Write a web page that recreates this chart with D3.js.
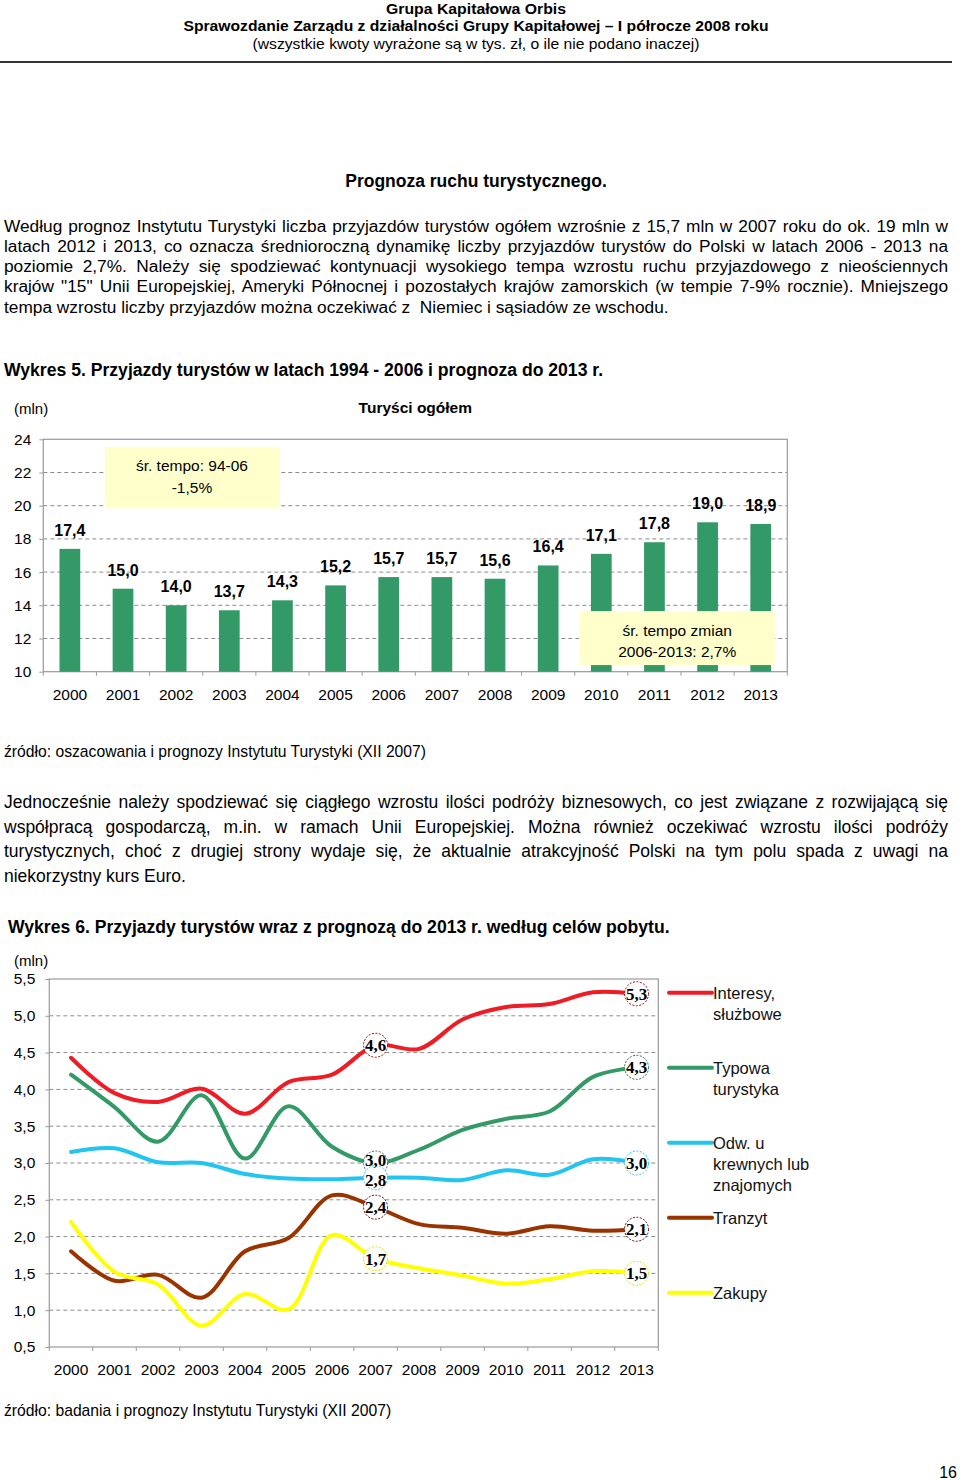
<!DOCTYPE html>
<html lang="pl">
<head>
<meta charset="UTF-8">
<title>Prognoza ruchu turystycznego</title>
<script src="https://cdn.jsdelivr.net/npm/d3@7"></script>
<style>
  body { margin: 0; background: #fff; }
  svg { display: block; font-family: "Liberation Sans", Arial, sans-serif; }
</style>
</head>
<body>
<svg id="page" width="960" height="1480"></svg>
<script>
// ---- data: Wykres 5 (turyści ogółem, mln)
const years = ["2000","2001","2002","2003","2004","2005","2006","2007","2008","2009","2010","2011","2012","2013"];
const total = [17.4, 15.0, 14.0, 13.7, 14.3, 15.2, 15.7, 15.7, 15.6, 16.4, 17.1, 17.8, 19.0, 18.9];
const ticks5 = [10, 12, 14, 16, 18, 20, 22, 24];

// ---- data: Wykres 6 (cele pobytu, mln)
const interesy = [4.43, 3.95, 3.83, 4.01, 3.67, 4.1, 4.2, 4.6, 4.55, 4.95, 5.12, 5.16, 5.32, 5.3];
const typowa   = [4.2, 3.76, 3.29, 3.92, 3.06, 3.77, 3.22, 3.0, 3.18, 3.45, 3.6, 3.7, 4.17, 4.3];
const odwiedz  = [3.15, 3.2, 3.01, 3.0, 2.85, 2.79, 2.78, 2.8, 2.8, 2.77, 2.9, 2.84, 3.05, 3.0];
const tranzyt  = [1.8, 1.4, 1.48, 1.17, 1.8, 1.98, 2.56, 2.4, 2.17, 2.12, 2.04, 2.14, 2.08, 2.1];
const zakupy   = [2.2, 1.52, 1.35, 0.79, 1.22, 1.01, 2.02, 1.7, 1.57, 1.47, 1.36, 1.42, 1.53, 1.5];
const seriesNames = [["Interesy,", "służbowe"], ["Typowa", "turystyka"], ["Odw. u", "krewnych lub", "znajomych"], ["Tranzyt"], ["Zakupy"]];
const seriesColors = ["#ee1c24", "#339966", "#22c4f0", "#993300", "#ffff00"];
const ringColors = ["#990000", "#1f6b45", "#22c4f0", "#660000", "#e0e000"];
const labelIdx = [7, 13];
const ticks6 = [0.5, 1.0, 1.5, 2.0, 2.5, 3.0, 3.5, 4.0, 4.5, 5.0, 5.5];

// ---- page text
const header = ["Grupa Kapitałowa Orbis",
  "Sprawozdanie Zarządu z działalności Grupy Kapitałowej – I półrocze 2008 roku",
  "(wszystkie kwoty wyrażone są w tys. zł, o ile nie podano inaczej)"];
const para1 = [
  "Według prognoz Instytutu Turystyki liczba przyjazdów turystów ogółem wzrośnie z 15,7 mln w 2007 roku do ok. 19 mln w",
  "latach 2012 i 2013, co oznacza średnioroczną dynamikę liczby przyjazdów turystów do Polski w latach 2006 - 2013 na",
  "poziomie 2,7%. Należy się spodziewać kontynuacji wysokiego tempa wzrostu ruchu przyjazdowego z nieościennych",
  "krajów \"15\" Unii Europejskiej, Ameryki Północnej i pozostałych krajów zamorskich (w tempie 7-9% rocznie). Mniejszego",
  "tempa wzrostu liczby przyjazdów można oczekiwać z  Niemiec i sąsiadów ze wschodu."];
const para2 = [
  "Jednocześnie należy spodziewać się ciągłego wzrostu ilości podróży biznesowych, co jest związane z rozwijającą się",
  "współpracą gospodarczą, m.in. w ramach Unii Europejskiej. Można również oczekiwać wzrostu ilości podróży",
  "turystycznych, choć z drugiej strony wydaje się, że aktualnie atrakcyjność Polski na tym polu spada z uwagi na",
  "niekorzystny kurs Euro."];

const page = d3.select("#page");
const comma = d => d3.format(".1f")(d).replace(".", ",");

// header
[[14, "bold", 180], [31, "bold", 585], [48.5, "normal", 447]].forEach(([y, w, len], i) => {
  page.append("text").attr("x", 476).attr("y", y).attr("text-anchor", "middle")
    .attr("font-size", 14.5).attr("font-weight", w)
    .attr("textLength", len).attr("lengthAdjust", "spacingAndGlyphs")
    .text(header[i]);
});
page.append("line").attr("x1", 0).attr("x2", 952).attr("y1", 62).attr("y2", 62)
  .attr("stroke", "#333").attr("stroke-width", 2);

page.append("text").attr("x", 476).attr("y", 187).attr("text-anchor", "middle")
  .attr("font-size", 17.5).attr("font-weight", "bold").text("Prognoza ruchu turystycznego.");

// justified paragraph lines
function paragraph(lines, y0, step, size) {
  lines.forEach((s, i) => {
    const t = page.append("text").attr("x", 4).attr("y", y0 + i * step)
      .attr("font-size", size).style("white-space", "pre").text(s);
    if (i < lines.length - 1) {
      const w = t.node().getComputedTextLength();
      const n = (s.match(/ /g) || []).length;
      t.attr("word-spacing", (944 - w) / n);
    }
  });
}
paragraph(para1, 231.5, 20.3, 17.3);
paragraph(para2, 808, 24.6, 17.5);

page.append("text").attr("x", 4).attr("y", 376).attr("font-size", 17.6).attr("font-weight", "bold")
  .text("Wykres 5. Przyjazdy turystów w latach 1994 - 2006 i prognoza do 2013 r.");
page.append("text").attr("x", 4).attr("y", 757).attr("font-size", 15.7)
  .text("źródło: oszacowania i prognozy Instytutu Turystyki (XII 2007)");
page.append("text").attr("x", 8).attr("y", 933).attr("font-size", 17.6).attr("font-weight", "bold")
  .text("Wykres 6. Przyjazdy turystów wraz z prognozą do 2013 r. według celów pobytu.");
page.append("text").attr("x", 4).attr("y", 1416).attr("font-size", 15.7)
  .text("źródło: badania i prognozy Instytutu Turystyki (XII 2007)");
page.append("text").attr("x", 957).attr("y", 1478).attr("text-anchor", "end").attr("font-size", 16).text("16");

// shared frame drawing
function frame(g, x, y, yTicks, fmt, pad) {
  const [x0, x1] = x.range(), [yb, yt] = y.range();
  g.selectAll(".grid").data(yTicks.slice(1, -1)).join("line")
    .attr("x1", x0).attr("x2", x1).attr("y1", d => y(d)).attr("y2", d => y(d))
    .attr("stroke", "#8c8c8c").attr("stroke-dasharray", "4,3");
  g.append("rect").attr("x", x0).attr("y", yt).attr("width", x1 - x0).attr("height", yb - yt)
    .attr("fill", "none").attr("stroke", "#9a9a9a").attr("stroke-width", 1.2);
  const yAxis = g.append("g").attr("transform", `translate(${x0},0)`)
    .call(d3.axisLeft(y).tickValues(yTicks).tickFormat(fmt).tickSize(4).tickPadding(pad));
  yAxis.select(".domain").remove();
  yAxis.selectAll("line").attr("stroke", "#9a9a9a");
  yAxis.selectAll("text").attr("font-size", 15.5).attr("fill", "#000").attr("font-family", null);
  const xAxis = g.append("g").attr("transform", `translate(0,${yb})`)
    .call(d3.axisBottom(x).tickSize(0).tickPadding(17));
  xAxis.select(".domain").remove();
  xAxis.selectAll("text").attr("font-size", 15.5).attr("fill", "#000").attr("font-family", null);
  const bounds = x.domain().map(d => x(d)).concat([x1]);
  g.selectAll(".xt").data(bounds).join("line")
    .attr("x1", d => d).attr("x2", d => d).attr("y1", yb).attr("y2", yb + 4)
    .attr("stroke", "#9a9a9a");
}

// ---- Wykres 5: bars
const c1 = page.append("g");
const x1 = d3.scaleBand().domain(years).range([43.3, 787.3]);
const y1 = d3.scaleLinear().domain([10, 24]).range([671.7, 439.3]);
frame(c1, x1, y1, ticks5, d => d, 8);
const bw = x1.bandwidth() * 0.39;
c1.selectAll(".bar").data(total).join("rect")
  .attr("x", (d, i) => x1(years[i]) + (x1.bandwidth() - bw) / 2)
  .attr("y", d => y1(d)).attr("width", bw).attr("height", d => y1(10) - y1(d))
  .attr("fill", "#339966");
c1.selectAll(".val").data(total).join("text")
  .attr("x", (d, i) => x1(years[i]) + x1.bandwidth() / 2).attr("y", d => y1(d) - 13)
  .attr("text-anchor", "middle").attr("font-size", 16).attr("font-weight", "bold")
  .text(d => comma(d));
c1.append("text").attr("x", 14).attr("y", 414).attr("font-size", 15).text("(mln)");
c1.append("text").attr("x", (x1.range()[0] + x1.range()[1]) / 2).attr("y", 413)
  .attr("text-anchor", "middle").attr("font-size", 15.5).attr("font-weight", "bold").text("Turyści ogółem");

// annotation boxes
const pw = x1.range()[1] - x1.range()[0];
function note(xa, xb, ya, yb, lines, cx) {
  const left = x1.range()[0] + pw * xa, right = x1.range()[0] + pw * xb;
  c1.append("rect").attr("x", left).attr("y", y1(ya)).attr("width", right - left)
    .attr("height", y1(yb) - y1(ya)).attr("fill", "#ffffcc");
  lines.forEach((s, i) => c1.append("text").attr("x", left + (right - left) * cx)
    .attr("y", y1(ya) + 24.5 + i * 21.8).attr("text-anchor", "middle").attr("font-size", 15.5).text(s));
}
note(0.083, 0.318, 23.55, 19.84, ["śr. tempo: 94-06", "-1,5%"], 0.497);
note(0.721, 0.983, 13.65, 10.4, ["śr. tempo zmian", "2006-2013: 2,7%"], 0.5);

// ---- Wykres 6: lines
const c2 = page.append("g");
const x2 = d3.scaleBand().domain(years).range([49.3, 658.3]);
const y2 = d3.scaleLinear().domain([0.5, 5.5]).range([1347, 979]);
frame(c2, x2, y2, ticks6, comma, 10);
c2.append("text").attr("x", 14).attr("y", 966).attr("font-size", 15).text("(mln)");
const cx2 = i => x2(years[i]) + x2.bandwidth() / 2;
const series = [interesy, typowa, odwiedz, tranzyt, zakupy];
const line = d3.line().x((d, i) => cx2(i)).y(d => y2(d)).curve(d3.curveCatmullRom);
series.forEach((s, k) => {
  c2.append("path").attr("d", line(s)).attr("fill", "none")
    .attr("stroke", seriesColors[k]).attr("stroke-width", 4).attr("stroke-linecap", "round");
});
// label rings first, then all numbers on top so overlapping ones stay readable
series.forEach((s, k) => {
  labelIdx.forEach(i => {
    c2.append("circle").attr("cx", cx2(i)).attr("cy", y2(s[i])).attr("r", 12)
      .attr("fill", "#fff").attr("stroke", ringColors[k]).attr("stroke-dasharray", "2,1.5");
  });
});
labelIdx.forEach(i => {
  // push apart numbers whose rings sit too close together
  const ys = series.map(s => y2(s[i]));
  const order = d3.range(ys.length).sort((a, b) => ys[a] - ys[b]);
  const ty = ys.slice();
  for (let j = 1; j < order.length; j++) {
    const a = order[j - 1], b = order[j];
    const gap = ty[b] - ty[a];
    if (gap < 20) { ty[a] -= (20 - gap) / 2; ty[b] += (20 - gap) / 2; }
  }
  series.forEach((s, k) => {
    c2.append("text").attr("x", cx2(i)).attr("y", ty[k] + 6).attr("text-anchor", "middle")
      .attr("font-family", "'Liberation Serif', 'Times New Roman', serif")
      .attr("font-weight", "bold").attr("font-size", 17).text(comma(s[i]));
  });
});

// legend
seriesNames.forEach((names, k) => {
  const ly = 992.7 + k * 75;
  c2.append("line").attr("x1", 669).attr("x2", 712).attr("y1", ly).attr("y2", ly)
    .attr("stroke", seriesColors[k]).attr("stroke-width", 4).attr("stroke-linecap", "round");
  names.forEach((n, j) => c2.append("text").attr("x", 713).attr("y", ly + 6 + j * 21)
    .attr("font-size", 16.5).attr("fill", "#111").text(n));
});
</script>
</body>
</html>
